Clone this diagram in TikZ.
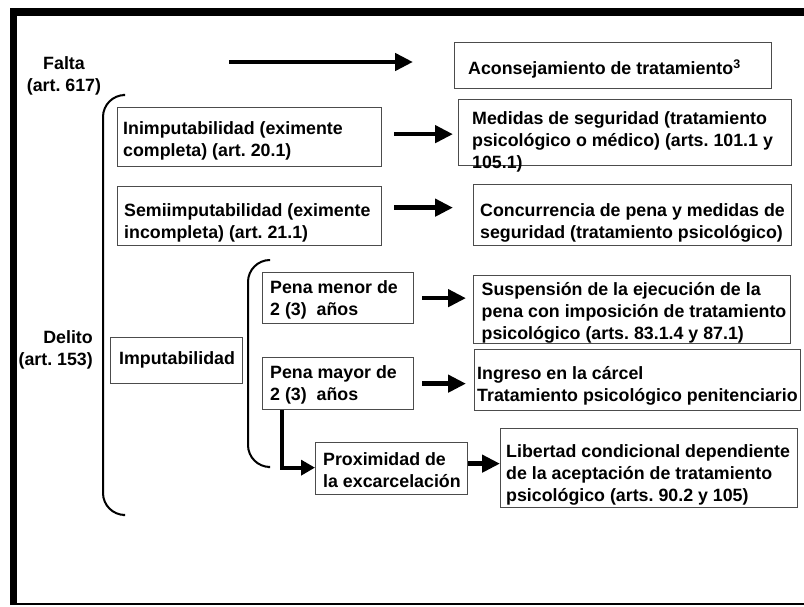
\documentclass[tikz,border=0pt]{standalone}
\usepackage{fontspec}
\setmainfont{Liberation Sans}
\usetikzlibrary{arrows.meta,calc}
\frenchspacing
\begin{document}
\begin{tikzpicture}[x=1pt,y=-1pt,
 box/.style={draw=black!70, line width=1.3pt, inner sep=0pt, anchor=north west},
 txt/.style={inner sep=0pt, font=\bfseries\fontsize{17.8}{22}\selectfont, align=left, anchor=west},
 arr/.style={line width=4.5pt, -{Triangle[length=18pt,width=17pt]}},
 brace/.style={line width=2pt, rounded corners=22pt}]
\useasboundingbox (0,0) rectangle (804,607);
% frame
\fill (10,8) rectangle (804,16);
\fill (10,8) rectangle (17,605);
\fill (10,602.5) rectangle (804,605);
% braces
\draw[brace] (123,95) -- (103,95) -- (103,515) -- (123,515);
\draw[brace] (268,260) -- (248,260) -- (248,467) -- (268,467);
% boxes
\node[box, minimum width=317pt, minimum height=46pt] (acon) at (454,42) {};
\node[box, minimum width=333pt, minimum height=66pt] (med) at (458,99) {};
\node[box, minimum width=264pt, minimum height=59pt] (inimp) at (117,107) {};
\node[box, minimum width=264pt, minimum height=59pt] (semi) at (117,186) {};
\node[box, minimum width=318pt, minimum height=61pt] (conc) at (473,184) {};
\node[box, minimum width=151pt, minimum height=51pt] (menor) at (262,272) {};
\node[box, minimum width=317pt, minimum height=68pt] (susp) at (473,275) {};
\node[box, minimum width=151pt, minimum height=52pt] (mayor) at (262,357) {};
\node[box, minimum width=326pt, minimum height=61pt] (ingr) at (474,349) {};
\node[box, minimum width=132pt, minimum height=46pt] (imput) at (110,337) {};
\node[box, minimum width=152pt, minimum height=52pt] (prox) at (315,442) {};
\node[box, minimum width=297pt, minimum height=79pt] (lib) at (500,428) {};
% texts
\node[txt, anchor=center, align=center] (falta) at (64,76) {Falta\\(art. 617)};
\node[txt, anchor=east, align=right] (delito) at (93,349.5) {Delito\\(art. 153)};
\node[txt] (acon-t) at (468,69) {Aconsejamiento de tratamiento\textsuperscript{3}};
\node[txt] (med-t) at (472,142) {Medidas de seguridad (tratamiento\\psicológico o médico) (arts. 101.1 y\\105.1)};
\node[txt] (inimp-t) at (123,140.5) {Inimputabilidad (eximente\\completa) (art. 20.1)};
\node[txt] (semi-t) at (124,223) {Semiimputabilidad (eximente\\incompleta) (art. 21.1)};
\node[txt] (conc-t) at (480,223) {Concurrencia de pena y medidas de\\seguridad (tratamiento psicológico)};
\node[txt] (menor-t) at (270,299.5) {Pena menor de\\2 (3)\ \ años};
\node[txt] (susp-t) at (481.5,313) {Suspensión de la ejecución de la\\pena con imposición de tratamiento\\psicológico (arts. 83.1.4 y 87.1)};
\node[txt] (mayor-t) at (270,384.5) {Pena mayor de\\2 (3)\ \ años};
\node[txt] (ingr-t) at (477,386) {Ingreso en la cárcel\\Tratamiento psicológico penitenciario};
\node[txt] (imput-t) at (119,360) {Imputabilidad};
\node[txt] (prox-t) at (323,470) {Proximidad de\\la excarcelación};
\node[txt] (lib-t) at (506,474.5) {Libertad condicional dependiente\\de la aceptación de tratamiento\\psicológico (arts. 90.2 y 105)};
% connectors
\coordinate (fa1) at (229,62);
\coordinate (fa2) at (413,62);
\draw[arr] (fa1) -- (fa2);
\draw[arr] ($(inimp.east)+(12,-3)$) -- ($(inimp.east -| med.west)+(-5,-3)$);
\draw[arr] ($(semi.east)+(12,-8.5)$) -- ($(semi.east -| conc.west)+(-20,-8.5)$);
\draw[arr] ($(menor.east)+(8,0)$) -- ($(menor.east -| susp.west)+(-7,0)$);
\draw[arr] ($(mayor.east)+(8,0)$) -- ($(mayor.east -| ingr.west)+(-8,0)$);
\draw[line width=4pt, -{Triangle[length=14pt,width=15pt]}] ($(mayor.south west)+(20,0)$) |- ($(prox.west)+(0,-1)$);
\draw[arr] ($(prox.east)+(0,-5)$) -- ($(prox.east -| lib.west)+(0,-5)$);
\end{tikzpicture}
\end{document}
